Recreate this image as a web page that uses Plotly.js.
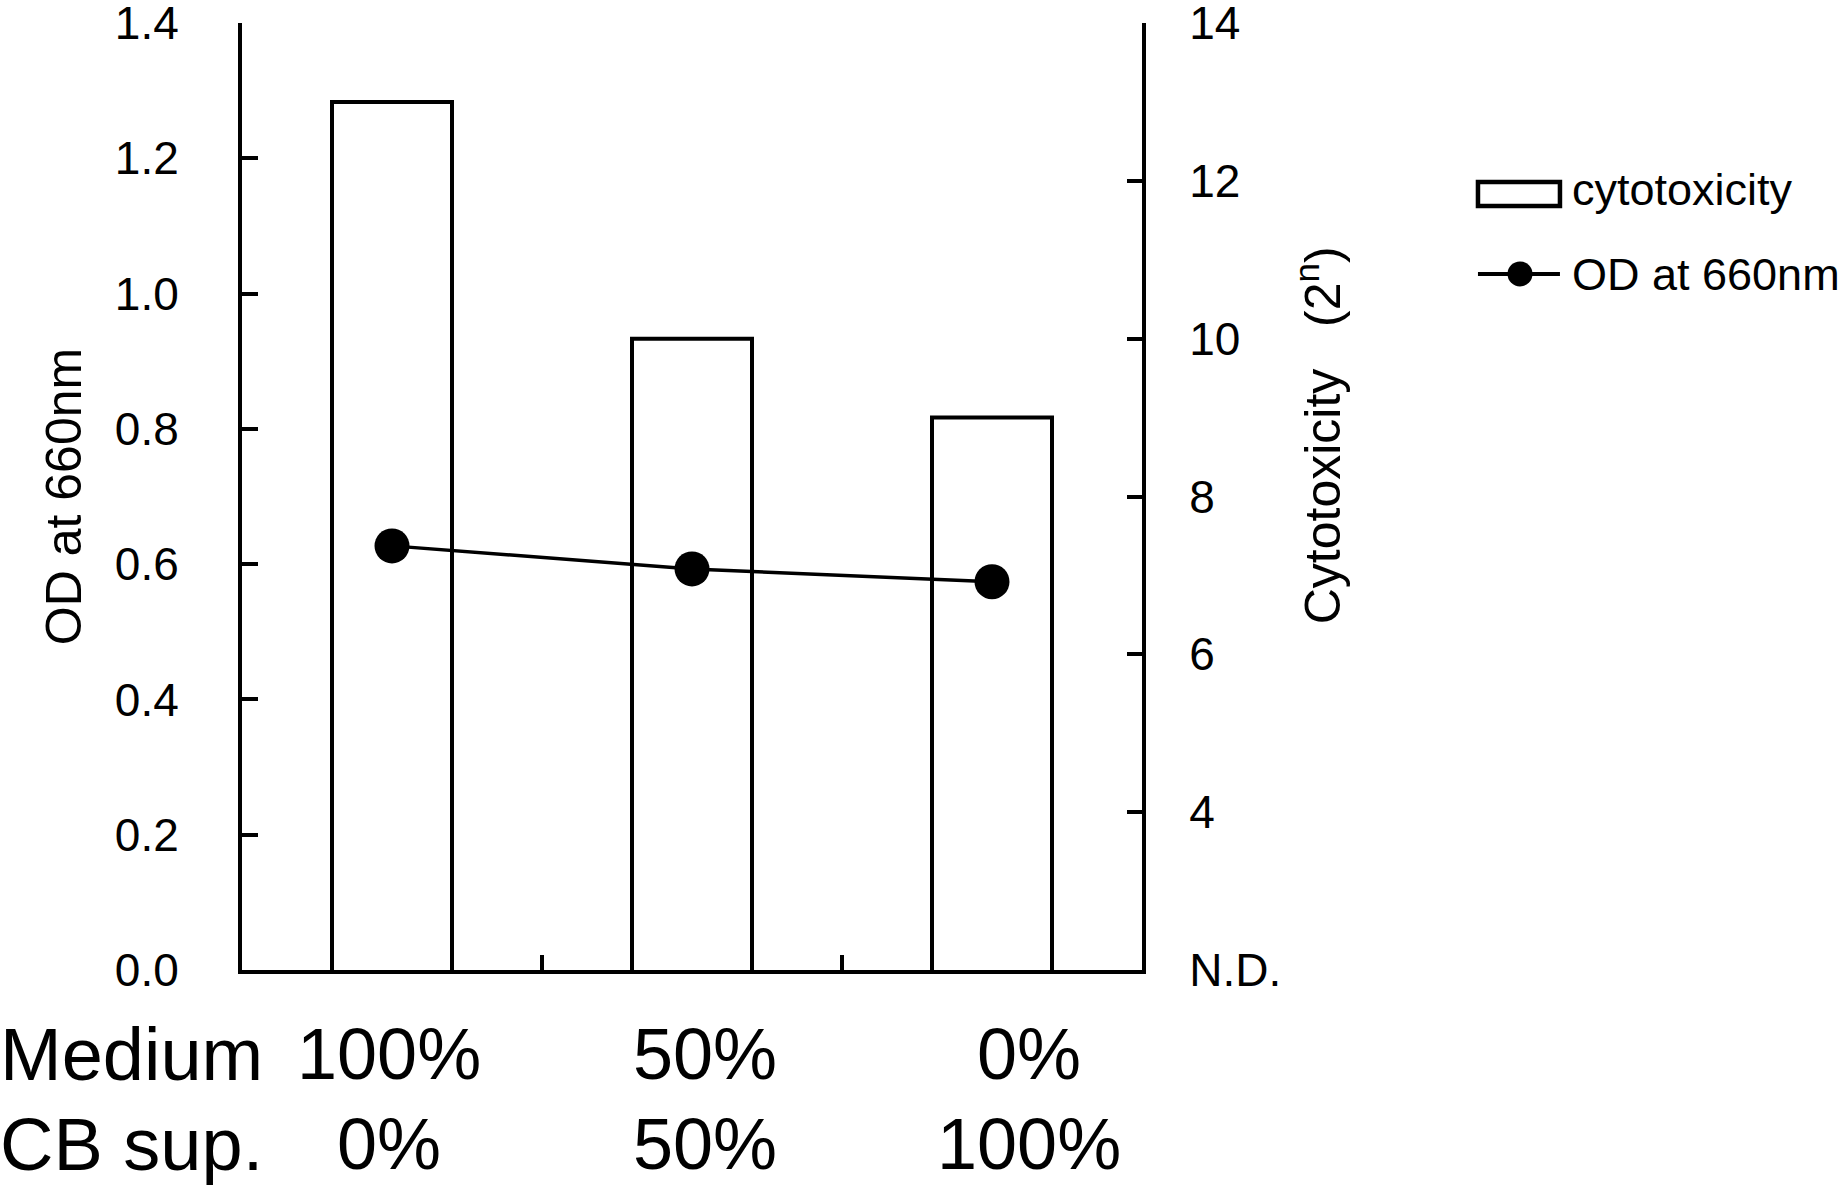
<!DOCTYPE html>
<html>
<head>
<meta charset="utf-8">
<script src="https://cdn.plot.ly/plotly-3.0.1.min.js"></script>
<style>
  html, body { margin: 0; padding: 0; background: #fff; }
  #chart { width: 1843px; height: 1187px; }
</style>
</head>
<body>
<div id="chart"></div>
<script>
// values
var medium = ['100%', '50%', '0%'];
var cbSup = ['0%', '50%', '100%'];
var cytotoxicity = [13, 10, 9];          // 2^n titre
var od660 = [0.627, 0.593, 0.574];       // OD at 660nm
var cytoTickVals = [2, 4, 6, 8, 10, 12, 14];
var cytoTickText = ['N.D.', '4', '6', '8', '10', '12', '14'];
var odTickVals = [0, 0.2, 0.4, 0.6, 0.8, 1.0, 1.2, 1.4];

var categories = medium.map(function (m, i) {
  return 'Medium ' + m + ' / CB sup. ' + cbSup[i];
});

var FONT = 'Liberation Sans, Arial, sans-serif';

var bars = {
  x: categories,
  y: cytotoxicity,
  type: 'bar',
  name: 'cytotoxicity',
  yaxis: 'y',
  width: 0.4,
  marker: { color: '#ffffff', line: { color: '#000000', width: 4 } },
  hoverinfo: 'y'
};

var line = {
  x: categories,
  y: od660,
  type: 'scatter',
  mode: 'lines+markers',
  name: 'OD at 660nm',
  yaxis: 'y2',
  line: { color: '#000000', width: 3.5 },
  marker: { color: '#000000', size: 35 },
  cliponaxis: false
};

// category labels under the axis, two rows
var labelShift = [-3, 13, 37];
var annotations = [];
[medium, cbSup].forEach(function (row, r) {
  row.forEach(function (txt, i) {
    annotations.push({
      xref: 'x', yref: 'paper', x: categories[i], y: 0,
      xanchor: 'center', yanchor: 'middle',
      xshift: labelShift[i], yshift: -84 - r * 90,
      text: txt, showarrow: false,
      font: { family: FONT, size: 72, color: '#000' }
    });
  });
});
['Medium', 'CB sup.'].forEach(function (txt, r) {
  annotations.push({
    xref: 'paper', yref: 'paper', x: 0, y: 0,
    xanchor: 'left', yanchor: 'middle',
    xshift: -244, yshift: -84 - r * 90,
    text: txt, showarrow: false,
    font: { family: FONT, size: 74, color: '#000' }
  });
});

// right axis title (sits above centre in the original)
annotations.push({
  xref: 'paper', yref: 'paper', x: 1.197, y: 0.565,
  xanchor: 'center', yanchor: 'middle', textangle: -90,
  text: 'Cytotoxicity\u00a0\u00a0\u00a0(2<sup>n</sup>)', showarrow: false,
  font: { family: FONT, size: 50, color: '#000' }
});

// legend text
annotations.push({
  xref: 'paper', yref: 'paper', x: 1.4756, y: 0.8237,
  xanchor: 'left', yanchor: 'middle',
  text: 'cytotoxicity', showarrow: false,
  font: { family: FONT, size: 45, color: '#000' }
});
annotations.push({
  xref: 'paper', yref: 'paper', x: 1.4756, y: 0.7339,
  xanchor: 'left', yanchor: 'middle',
  text: 'OD at 660nm', showarrow: false,
  font: { family: FONT, size: 45, color: '#000' }
});

// legend symbols
var shapes = [
  { type: 'rect', xref: 'paper', yref: 'paper',
    x0: 1.3733, x1: 1.4644, y0: 0.8068, y1: 0.8321,
    line: { color: '#000', width: 4.5 }, fillcolor: '#fff' },
  { type: 'line', xref: 'paper', yref: 'paper',
    x0: 1.3733, x1: 1.4644, y0: 0.735, y1: 0.735,
    line: { color: '#000', width: 4 } },
  { type: 'circle', xref: 'paper', yref: 'paper',
    xsizemode: 'pixel', ysizemode: 'pixel', xanchor: 1.42, yanchor: 0.735,
    x0: -12.5, x1: 12.5, y0: -12.5, y1: 12.5,
    line: { width: 0 }, fillcolor: '#000' }
];

var layout = {
  width: 1843,
  height: 1187,
  margin: { l: 242, r: 701, t: 23, b: 217 },
  paper_bgcolor: '#fff',
  plot_bgcolor: '#fff',
  showlegend: false,
  font: { family: FONT, color: '#000' },
  xaxis: {
    type: 'category',
    range: [-0.5, 2.5],
    showticklabels: false,
    showgrid: false, zeroline: false,
    showline: true, linecolor: '#000', linewidth: 4,
    ticks: 'inside', tickson: 'boundaries', ticklen: 15, tickwidth: 4, tickcolor: '#000'
  },
  yaxis: {
    side: 'right',
    range: [2, 14],
    tickvals: cytoTickVals, ticktext: cytoTickText,
    showgrid: false, zeroline: false,
    showline: true, linecolor: '#000', linewidth: 4,
    ticks: 'inside', ticklen: 15, tickwidth: 4, tickcolor: '#000',
    ticklabelstandoff: 34,
    ticklabeloverflow: 'allow',
    tickfont: { family: FONT, size: 46, color: '#000' }
  },
  yaxis2: {
    overlaying: 'y',
    side: 'left',
    range: [0, 1.4],
    tickvals: odTickVals, tickformat: '.1f',
    showgrid: false, zeroline: false,
    showline: true, linecolor: '#000', linewidth: 4,
    ticks: 'inside', ticklen: 16, tickwidth: 4, tickcolor: '#000',
    ticklabelstandoff: 50,
    ticklabeloverflow: 'allow',
    tickfont: { family: FONT, size: 46, color: '#000' },
    title: { text: 'OD at 660nm', standoff: 18, font: { family: FONT, size: 50, color: '#000' } }
  },
  annotations: annotations,
  shapes: shapes
};

Plotly.newPlot('chart', [bars, line], layout, { displayModeBar: false, staticPlot: true });
</script>
</body>
</html>
